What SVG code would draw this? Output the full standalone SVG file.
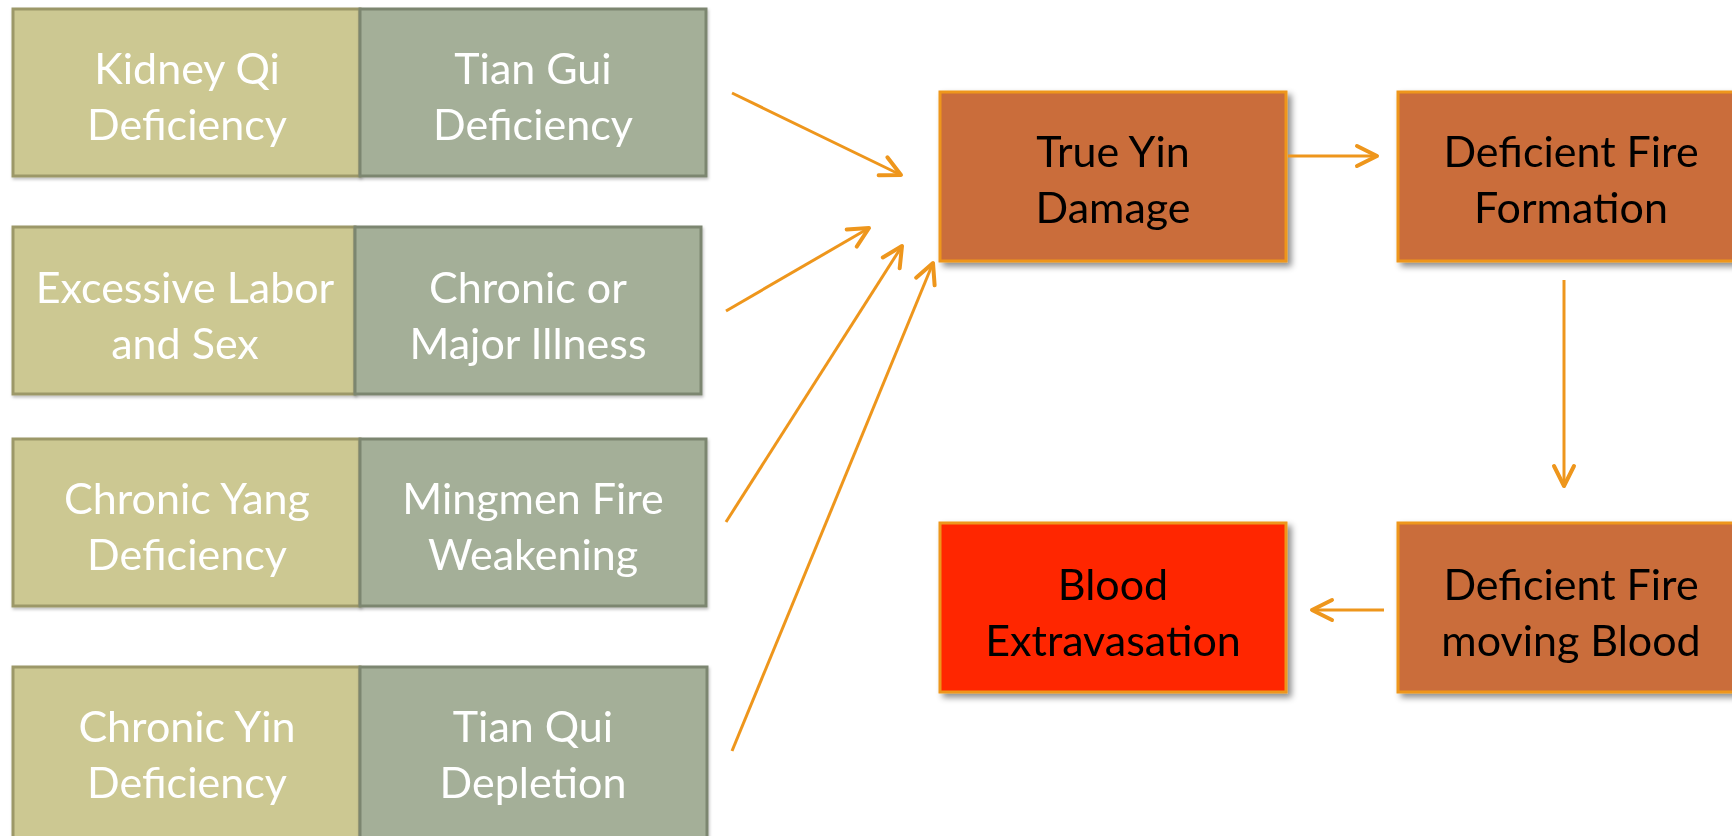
<svg xmlns="http://www.w3.org/2000/svg" width="1732" height="836" viewBox="0 0 1732 836">
<defs>
<filter id="sh" x="-10%" y="-10%" width="130%" height="130%">
<feDropShadow dx="4" dy="4" stdDeviation="3" flood-color="#000" flood-opacity="0.45"/>
</filter>
<filter id="sh2" x="-10%" y="-10%" width="130%" height="130%">
<feDropShadow dx="1" dy="2" stdDeviation="1.5" flood-color="#000" flood-opacity="0.25"/>
</filter>
<marker id="ah" markerUnits="userSpaceOnUse" viewBox="-26 -14 30 28" markerWidth="30" markerHeight="28" refX="0" refY="0" orient="auto">
<path d="M-20,-10 L0,0 L-20,10" fill="none" stroke="#EE961C" stroke-width="4" stroke-linecap="round" stroke-linejoin="round"/>
</marker>
</defs>
<style>
.t{font-family:Lato,"Open Sans","Liberation Sans",sans-serif;font-size:43px;text-anchor:middle}
.w{fill:#FFFFFF}
.k{fill:#000000}
.tan{fill:#CCC892;stroke:#9C9868;stroke-width:3}
.grn{fill:#A4AF98;stroke:#7C8670;stroke-width:3}
.org{fill:#CA6D3A;stroke:#EE961C;stroke-width:3}
.red{fill:#FF2600;stroke:#EE961C;stroke-width:3}
.c{stroke:#EE961C;stroke-width:3;fill:none;marker-end:url(#ah)}
</style>
<rect width="1732" height="836" fill="#FFFFFF"/>
<g id="n1a" filter="url(#sh2)"><rect class="tan" x="13" y="9" width="347" height="167"/><text class="t w" x="187" y="84">Kidney Qi</text><text class="t w" x="187" y="140">Deficiency</text></g>
<g id="n1b" filter="url(#sh2)"><rect class="grn" x="360" y="9" width="346" height="167"/><text class="t w" x="533" y="84">Tian Gui</text><text class="t w" x="533" y="140">Deficiency</text></g>
<g id="n2a" filter="url(#sh2)"><rect class="tan" x="13" y="227" width="342" height="167"/><text class="t w" x="185" y="303">Excessive Labor</text><text class="t w" x="185" y="359">and Sex</text></g>
<g id="n2b" filter="url(#sh2)"><rect class="grn" x="355" y="227" width="346" height="167"/><text class="t w" x="528" y="303">Chronic or</text><text class="t w" x="528" y="359">Major Illness</text></g>
<g id="n3a" filter="url(#sh2)"><rect class="tan" x="13" y="439" width="347" height="167"/><text class="t w" x="187" y="514">Chronic Yang</text><text class="t w" x="187" y="570">Deficiency</text></g>
<g id="n3b" filter="url(#sh2)"><rect class="grn" x="360" y="439" width="346" height="167"/><text class="t w" x="533" y="514">Mingmen Fire</text><text class="t w" x="533" y="570">Weakening</text></g>
<g id="n4a" filter="url(#sh2)"><rect class="tan" x="13" y="667" width="347" height="172"/><text class="t w" x="187" y="742">Chronic Yin</text><text class="t w" x="187" y="798">Deficiency</text></g>
<g id="n4b" filter="url(#sh2)"><rect class="grn" x="360" y="667" width="347" height="172"/><text class="t w" x="533" y="742">Tian Qui</text><text class="t w" x="533" y="798">Depletion</text></g>
<g id="trueyin" filter="url(#sh)"><rect class="org" x="940" y="92" width="346" height="169"/><text class="t k" x="1113" y="167">True Yin</text><text class="t k" x="1113" y="223">Damage</text></g>
<g id="formation" filter="url(#sh)"><rect class="org" x="1398" y="92" width="350" height="169"/><text class="t k" x="1571" y="167">Deficient Fire</text><text class="t k" x="1571" y="223">Formation</text></g>
<g id="moving" filter="url(#sh)"><rect class="org" x="1398" y="523" width="350" height="169"/><text class="t k" x="1571" y="600">Deficient Fire</text><text class="t k" x="1571" y="656">moving Blood</text></g>
<g id="blood" filter="url(#sh)"><rect class="red" x="940" y="523" width="346" height="169"/><text class="t k" x="1113" y="600">Blood</text><text class="t k" x="1113" y="656">Extravasation</text></g>
<g id="connectors">
<line class="c" x1="732" y1="93" x2="901" y2="175"/>
<line class="c" x1="726" y1="311" x2="869" y2="228"/>
<line class="c" x1="726" y1="522" x2="902" y2="246"/>
<line class="c" x1="732" y1="751" x2="933" y2="263"/>
<line class="c" x1="1288" y1="156" x2="1377" y2="156"/>
<line class="c" x1="1564" y1="280" x2="1564" y2="486"/>
<line class="c" x1="1384" y1="610" x2="1312" y2="610"/>
</g>
</svg>
